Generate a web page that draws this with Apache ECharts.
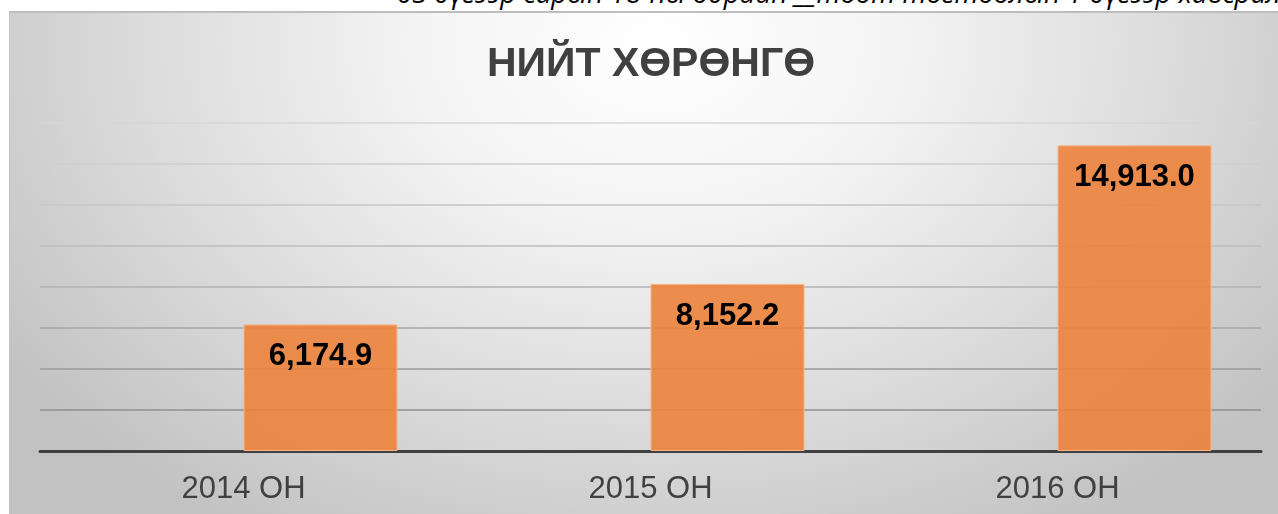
<!DOCTYPE html>
<html>
<head>
<meta charset="utf-8">
<script src="https://cdn.jsdelivr.net/npm/echarts@6/dist/echarts.min.js"></script>
<style>
  html, body { margin: 0; padding: 0; background: #fff; }
  #note {
    position: absolute; left: 397px; top: -26px; white-space: nowrap;
    font-family: "Open Sans", "Liberation Sans", sans-serif; font-style: italic;
    font-size: 27.5px; line-height: 37px; color: #000;
  }
  #box {
    position: absolute; left: 9px; top: 11px; width: 1269px; height: 503px;
    border-top: 2px solid #bdbdbd; border-left: 1px solid #c4c4c4; box-sizing: border-box;
    background: radial-gradient(ellipse 62% 115% at 51% 6%, #ffffff 0%, #f4f4f4 30%, #dcdcdc 65%, #c2c2c2 100%);
  }
  #main { position: absolute; left: 0; top: 0; width: 1278px; height: 514px; }
</style>
</head>
<body>
<div id="note">03 дүгээр сарын 18-ны өдрийн __тоот тогтоолын 1 дүгээр хавсралт</div>
<div id="box"></div>
<div id="main"></div>
<script>
// НИЙТ ХӨРӨНГӨ (сая төгрөг)
const categories = ['2014 ОН', '2015 ОН', '2016 ОН'];
const values = [6174.9, 8152.2, 14913.0];
// эх графикт хоосон үлдсэн эхний цуврал (баганууд баруун тийш шилжсэн)
const emptySeries = [null, null, null];

let myChart = echarts.init(document.getElementById('main'));

myChart.setOption({
  backgroundColor: 'transparent',
  title: {
    text: 'НИЙТ ХӨРӨНГӨ',
    left: 646,
    top: 39,
    textAlign: 'center',
    textStyle: {
      fontFamily: 'Liberation Sans',
      fontWeight: 'bold',
      fontSize: 41,
      color: '#404040'
    }
  },
  grid: { left: 40, right: 17, top: 123, bottom: 63 },
  xAxis: {
    type: 'category',
    data: categories,
    axisTick: { show: false },
    axisLine: { lineStyle: { color: '#404040', width: 3 } },
    axisLabel: {
      fontFamily: 'Liberation Sans',
      fontSize: 31,
      color: '#404040',
      margin: 23
    }
  },
  yAxis: {
    type: 'value',
    min: 0,
    max: 16000,
    interval: 2000,
    axisLabel: { show: false },
    axisLine: { show: false },
    axisTick: { show: false },
    splitLine: {
      lineStyle: {
        width: 1.5,
        color: ['#555', '#8f8f8f', '#9a9a9a', '#a6a6a6', '#b2b2b2', '#bcbcbc', '#c6c6c6', '#cecece', '#d6d6d6']
      }
    }
  },
  series: [{
    type: 'bar',
    data: emptySeries,
    barWidth: 154,
    barGap: '0%'
  }, {
    type: 'bar',
    data: values,
    barWidth: 154,
    barGap: '0%',
    itemStyle: {
      color: 'rgba(236,131,60,0.9)',
      borderColor: '#f6b489',
      borderWidth: 1
    },
    label: {
      show: true,
      position: 'insideTop',
      distance: 17,
      fontFamily: 'Liberation Sans',
      fontWeight: 'bold',
      fontSize: 31,
      color: '#000',
      formatter: p => p.value.toLocaleString('en-US', { minimumFractionDigits: 1, maximumFractionDigits: 1 })
    }
  }]
});
</script>
</body>
</html>
